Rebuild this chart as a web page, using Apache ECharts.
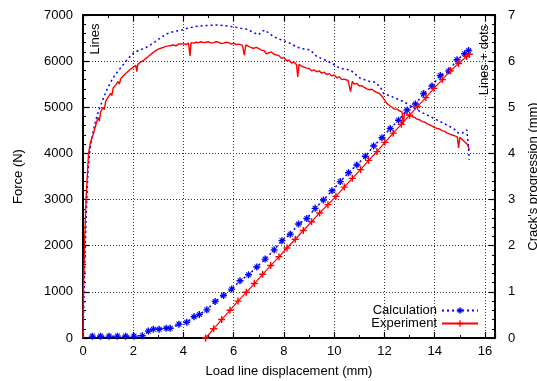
<!DOCTYPE html>
<html><head><meta charset="utf-8">
<script src="https://cdn.jsdelivr.net/npm/echarts@6/dist/echarts.min.js"></script>
<style>html,body{margin:0;padding:0;background:#fff}#c{width:537px;height:381px}</style>
</head><body><div id="c"></div>
<script>
// ---- data (x: load line displacement mm) ----
const expForce = [[0,0],[0.02,1000],[0.06,2000],[0.12,3000],[0.18,3600],[0.22,4000],[0.3,4250],[0.4,4400],[0.45,4380],[0.5,4600],[0.6,4780],[0.65,4700],[0.7,4900],[0.8,5000],[0.85,4950],[0.9,5130],[1.0,5220],[1.1,5300],[1.15,5250],[1.2,5420],[1.3,5480],[1.4,5560],[1.45,5500],[1.5,5620],[1.6,5680],[1.7,5730],[1.75,5690],[1.8,5780],[1.9,5830],[2.0,5870],[2.1,5910],[2.14,5770],[2.18,5930],[2.3,5980],[2.4,6010],[2.5,6060],[2.55,6020],[2.6,6100],[2.7,6150],[2.8,6190],[2.85,6150],[2.9,6230],[3.0,6260],[3.1,6280],[3.15,6240],[3.2,6300],[3.3,6320],[3.4,6330],[3.45,6290],[3.5,6340],[3.6,6350],[3.7,6330],[3.8,6370],[3.9,6370],[4.0,6380],[4.1,6360],[4.2,6390],[4.26,6110],[4.3,6400],[4.4,6390],[4.5,6410],[4.6,6400],[4.7,6420],[4.8,6400],[4.9,6410],[5.0,6420],[5.1,6390],[5.2,6400],[5.3,6420],[5.4,6410],[5.5,6380],[5.6,6390],[5.7,6410],[5.8,6400],[5.9,6370],[6.0,6390],[6.1,6360],[6.2,6370],[6.35,6340],[6.42,6130],[6.48,6350],[6.6,6320],[6.7,6290],[6.8,6280],[6.9,6300],[7.0,6270],[7.1,6240],[7.2,6230],[7.3,6160],[7.35,6180],[7.5,6200],[7.6,6150],[7.65,6140],[7.8,6120],[7.9,6060],[8.0,6080],[8.1,6010],[8.2,6020],[8.3,5960],[8.4,5980],[8.5,5920],[8.55,5660],[8.6,5930],[8.7,5890],[8.8,5870],[8.85,5830],[8.9,5850],[9.0,5840],[9.1,5790],[9.2,5810],[9.3,5770],[9.4,5790],[9.5,5740],[9.6,5760],[9.7,5710],[9.8,5730],[9.9,5680],[10.0,5700],[10.1,5640],[10.2,5660],[10.3,5600],[10.4,5610],[10.55,5580],[10.65,5340],[10.72,5560],[10.8,5500],[10.9,5520],[11.0,5460],[11.1,5470],[11.2,5430],[11.3,5400],[11.4,5380],[11.5,5390],[11.6,5350],[11.7,5320],[11.8,5300],[11.9,5240],[12.0,5160],[12.1,5080],[12.15,5110],[12.2,5040],[12.3,5000],[12.4,4960],[12.5,4960],[12.6,4920],[12.7,4900],[12.75,4620],[12.8,4900],[12.9,4850],[13.0,4820],[13.1,4800],[13.2,4780],[13.3,4740],[13.4,4730],[13.5,4690],[13.6,4680],[13.7,4640],[13.8,4620],[13.9,4590],[14.0,4560],[14.1,4540],[14.2,4530],[14.3,4490],[14.4,4480],[14.5,4440],[14.6,4420],[14.7,4400],[14.8,4380],[14.9,4360],[14.95,4120],[15.0,4350],[15.1,4300],[15.2,4250],[15.3,4200],[15.38,4080]];
const calcForce = [[0,0],[0.05,1200],[0.1,2200],[0.15,3000],[0.2,3600],[0.28,4100],[0.41,4500],[0.55,4800],[0.68,5010],[0.85,5250],[1.0,5440],[1.2,5640],[1.4,5790],[1.54,5880],[1.75,6030],[2.0,6170],[2.2,6230],[2.47,6280],[2.7,6360],[2.87,6420],[3.1,6510],[3.33,6590],[3.6,6640],[3.93,6675],[4.2,6720],[4.6,6760],[5.0,6775],[5.3,6785],[5.6,6770],[6.0,6745],[6.3,6710],[6.5,6695],[6.8,6620],[6.98,6570],[7.15,6650],[7.25,6675],[7.4,6600],[7.72,6495],[8.0,6440],[8.25,6386],[8.5,6310],[8.65,6278],[9.04,6242],[9.31,6097],[9.64,6025],[9.97,5932],[10.24,5845],[10.64,5808],[11.04,5628],[11.43,5556],[11.57,5556],[11.83,5447],[11.96,5303],[12.3,5230],[12.76,5122],[13.1,5010],[13.43,4904],[13.96,4761],[14.49,4616],[14.75,4540],[14.95,4436],[15.1,4440],[15.28,4508],[15.35,4100],[15.37,3860]];
const calcCrack = [[0.37,0.04],[0.70,0.04],[1.04,0.04],[1.37,0.04],[1.70,0.04],[2.03,0.04],[2.36,0.05],[2.60,0.15],[2.80,0.19],[3.03,0.19],[3.31,0.21],[3.47,0.21],[3.82,0.30],[4.13,0.34],[4.42,0.46],[4.63,0.51],[4.93,0.61],[5.26,0.79],[5.59,0.92],[5.92,1.06],[6.25,1.24],[6.59,1.37],[6.92,1.54],[7.25,1.71],[7.61,1.91],[7.92,2.11],[8.25,2.25],[8.58,2.47],[8.91,2.59],[9.24,2.81],[9.57,2.99],[9.91,3.19],[10.24,3.39],[10.57,3.58],[10.9,3.75],[11.24,3.94],[11.57,4.16],[11.9,4.34],[12.23,4.54],[12.56,4.72],[12.9,4.94],[13.23,5.07],[13.56,5.30],[13.89,5.46],[14.22,5.69],[14.56,5.79],[14.89,6.03],[15.19,6.16],[15.35,6.23]];
const expCrack = [[4.88,0],[5.2,0.2],[5.52,0.4],[5.85,0.6],[6.17,0.8],[6.5,0.99],[6.82,1.18],[7.15,1.38],[7.47,1.57],[7.8,1.76],[8.12,1.95],[8.45,2.14],[8.77,2.33],[9.1,2.52],[9.42,2.71],[9.75,2.89],[10.07,3.07],[10.4,3.27],[10.72,3.46],[11.05,3.65],[11.37,3.85],[11.7,4.04],[12.02,4.24],[12.35,4.44],[12.67,4.63],[13.0,4.83],[13.32,5.02],[13.65,5.21],[13.97,5.41],[14.3,5.6],[14.62,5.79],[14.95,5.95],[15.27,6.1],[15.38,6.15]];
const seriesNames = ['Calculation', 'Experiment'];
const xName = 'Load line displacement (mm)';
const yName = 'Force (N)';
const y2Name = "Crack's progression (mm)";

const FONT = 'Liberation Sans, Arial, sans-serif';
const chart = echarts.init(document.getElementById('c'), null, {renderer: 'canvas'});
const axisLine = {show: true, onZero: false, lineStyle: {color: '#000', width: 2}};
const tick = {show: true, inside: true, length: 6, lineStyle: {color: '#000', width: 1.2}};
const minor = (n) => ({show: true, splitNumber: n, length: 3, lineStyle: {color: '#000', width: 1}});
const grid = {show: true, lineStyle: {color: '#333', width: 1, type: [1, 2]}};
const lbl = {color: '#000', fontSize: 13, fontFamily: FONT};
const plus = 'path://M4,0H6V4H10V6H6V10H4V6H0V4H4Z';
const star = 'path://M0,4H10V6H0Z M4,0H6V10H4Z M1,2L2,1L9,8L8,9Z M8,1L9,2L2,9L1,8Z';

chart.setOption({
  animation: false,
  backgroundColor: '#fff',
  grid: {left: 83, right: 42, top: 15, bottom: 43, containLabel: false, outerBoundsMode: 'none'},
  legend: {
    data: seriesNames, orient: 'vertical', align: 'right', right: 58, top: 304,
    itemGap: 0, itemWidth: 36, itemHeight: 8, padding: 0,
    textStyle: {fontSize: 13, fontFamily: FONT, color: '#000'}
  },
  graphic: [
    {type: 'text', x: 95, y: 39, rotation: Math.PI / 2, style: {text: 'Lines', font: '13px ' + FONT, fill: '#000', align: 'center', verticalAlign: 'middle'}},
    {type: 'text', x: 484, y: 60, rotation: Math.PI / 2, style: {text: 'Lines + dots', font: '13px ' + FONT, fill: '#000', align: 'center', verticalAlign: 'middle'}}
  ],
  xAxis: [
    {type: 'value', min: 0, max: 16.4, interval: 2, position: 'bottom',
     name: xName, nameLocation: 'middle', nameGap: 27, nameTextStyle: lbl,
     axisLine, axisTick: tick, minorTick: minor(2), splitLine: grid,
     axisLabel: Object.assign({margin: 7, formatter: v => (Math.abs(v % 2) < 1e-9 ? String(v) : '')}, lbl)},
    {type: 'value', min: 0, max: 16.4, interval: 2, position: 'top',
     axisLine, axisTick: tick, minorTick: minor(2), splitLine: {show: false}, axisLabel: {show: false}}
  ],
  yAxis: [
    {type: 'value', min: 0, max: 7000, interval: 1000, position: 'left',
     name: yName, nameLocation: 'middle', nameGap: 58, nameRotate: 90, nameTextStyle: lbl,
     axisLine, axisTick: tick, minorTick: minor(5), splitLine: grid,
     axisLabel: Object.assign({margin: 10, formatter: v => String(v)}, lbl)},
    {type: 'value', min: 0, max: 7, interval: 1, position: 'right',
     name: y2Name, nameLocation: 'middle', nameGap: 32, nameRotate: 90, nameTextStyle: lbl,
     axisLine, axisTick: tick, minorTick: minor(5), splitLine: {show: false},
     axisLabel: Object.assign({margin: 13, formatter: v => String(v)}, lbl)}
  ],
  series: [
    {name: seriesNames[0], type: 'line', yAxisIndex: 1, data: calcCrack, z: 3,
     symbol: star, symbolSize: 7, showSymbol: true, itemStyle: {color: '#0000ff'},
     lineStyle: {color: '#0000ff', width: 1.5, type: [2, 3]}},
    {name: seriesNames[1], type: 'line', yAxisIndex: 1, data: expCrack, z: 3,
     symbol: plus, symbolSize: 7, showSymbol: true, itemStyle: {color: '#ff0000'},
     lineStyle: {color: '#ff0000', width: 1.2}},
    {name: seriesNames[0], type: 'line', yAxisIndex: 0, data: calcForce, z: 2,
     symbol: 'none', lineStyle: {color: '#0000ff', width: 1.5, type: [2, 3]}},
    {name: seriesNames[1], type: 'line', yAxisIndex: 0, data: expForce, z: 2,
     symbol: 'none', lineStyle: {color: '#ff0000', width: 1.4}}
  ]
});
</script></body></html>
